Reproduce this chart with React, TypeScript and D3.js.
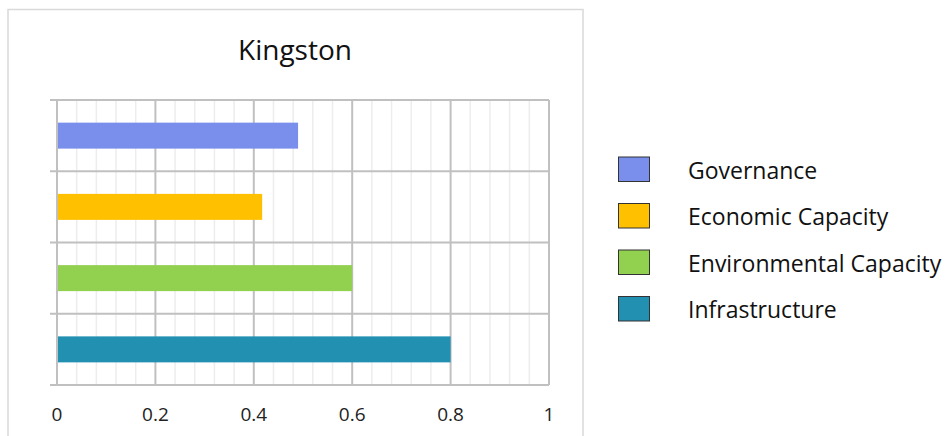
import React from "react";
import * as d3 from "d3";

const title = "Kingston";
const categories = ["Governance", "Economic Capacity", "Environmental Capacity", "Infrastructure"];
const values = [0.49, 0.417, 0.6, 0.8];
const colors = ["#7A8FEC", "#FFC000", "#92D050", "#2290B1"];
const xTicks = [0, 0.2, 0.4, 0.6, 0.8, 1];
const minorTicks = d3.range(0, 1.0001, 0.04);

const W = 946;
const H = 436;
const plot = { left: 57, right: 549, top: 100, bottom: 385 };
const font = "'Open Sans', sans-serif";

export default function App() {
  const x = d3.scaleLinear().domain([0, 1]).range([plot.left, plot.right]);
  const pad = 1 - 26 / 71.25;
  const y = d3
    .scaleBand<string>()
    .domain(categories)
    .range([plot.top, plot.bottom])
    .paddingInner(pad)
    .paddingOuter(pad / 2);
  const step = y.step();
  const boundaries = d3.range(categories.length + 1).map((i) => plot.top + i * step);
  const legendY = d3
    .scalePoint<string>()
    .domain(categories)
    .range([169.5, 309]);

  return (
    <svg
      width={W}
      height={H}
      style={{ position: "absolute", left: 0, top: 0, background: "#fff" }}
      fontFamily={font}
    >
      <rect x={8} y={9.5} width={575} height={440} fill="#fff" stroke="#d9d9d9" strokeWidth={1.5} />
      <text x={295} y={60} textAnchor="middle" fontSize={28} fill="#111">
        {title}
      </text>
      {/* minor gridlines */}
      {minorTicks
        .filter((t) => Math.abs(Math.round(t / 0.2) * 0.2 - t) > 1e-6)
        .map((t, i) => (
          <line key={"m" + i} x1={x(t)} x2={x(t)} y1={plot.top} y2={plot.bottom} stroke="#ededed" strokeWidth={1.5} />
        ))}
      {/* major gridlines */}
      {xTicks.map((t, i) => (
        <line key={"M" + i} x1={x(t)} x2={x(t)} y1={plot.top} y2={plot.bottom} stroke="#c0c0c0" strokeWidth={2} />
      ))}
      {boundaries.map((b, i) => (
        <line key={"h" + i} x1={50} x2={plot.right} y1={b} y2={b} stroke="#c0c0c0" strokeWidth={2} />
      ))}
      {/* bars */}
      {categories.map((c, i) => (
        <rect key={c} x={x(0) + 1} y={y(c)} width={x(values[i]) - x(0) - 1} height={y.bandwidth()} fill={colors[i]} />
      ))}
      {/* x tick labels */}
      {xTicks.map((t, i) => (
        <text key={"t" + i} x={x(t)} y={421} textAnchor="middle" fontSize={19} fill="#222">
          {d3.format("~g")(t)}
        </text>
      ))}
      {/* legend */}
      {categories.map((c, i) => (
        <g key={"l" + c}>
          <rect
            x={618.5}
            y={(legendY(c) as number) - 12.5}
            width={31}
            height={24.5}
            fill={colors[i]}
            stroke="#333"
            strokeWidth={1}
          />
          <text x={688} y={(legendY(c) as number) + 9} fontSize={23} fill="#111">
            {c}
          </text>
        </g>
      ))}
    </svg>
  );
}
